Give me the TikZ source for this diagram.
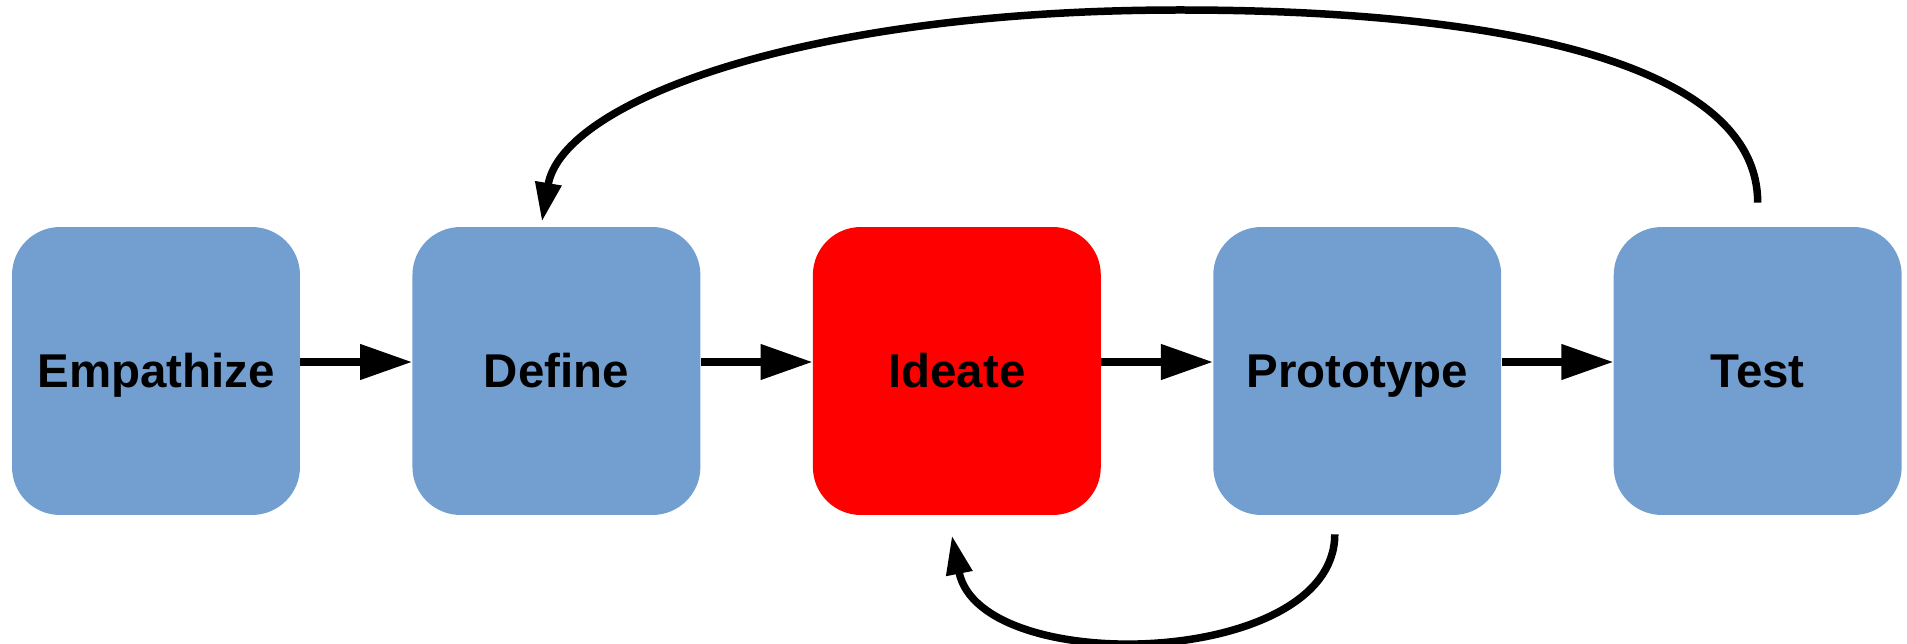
\documentclass[tikz,border=0pt]{standalone}
\usepackage{fontspec}
\setmainfont{Liberation Sans}
\usepackage{tikz}
\usetikzlibrary{arrows.meta}
\definecolor{stageblue}{HTML}{729FCF}
\tikzstyle{stage} = [rectangle, rounded corners=0.96cm, minimum width=5.76cm, minimum height=5.76cm,
    text centered, text height=0.68cm, text depth=0cm, draw=none, fill=stageblue,
    font=\bfseries\fontsize{27}{32}\selectfont]
\tikzstyle{current} = [stage, fill=red]
\tikzstyle{arrow} = [line width=0.15cm, -{Triangle[length=1.04cm, width=0.68cm]}]
\tikzstyle{loopback} = [line width=0.15cm, -{Triangle[length=0.78cm, width=0.5cm]}]

\begin{document}
\begin{tikzpicture}[x=0.02cm, y=0.02cm, node distance=8.01cm]
                \useasboundingbox (0,0) rectangle (1907,643);
                \node (empathize) [stage] at (156,272) {Empathize};
                \node (define) [stage, right of=empathize] {Define};
                \node (ideate) [current, right of=define] {Ideate};
                \node (prototype) [stage, right of=ideate] {Prototype};
                \node (test) [stage, right of=prototype] {Test};
                \draw [arrow] ([yshift=0.18cm]empathize.east) -- ([yshift=0.18cm]define.west);
                \draw [arrow] ([yshift=0.18cm]define.east) -- ([yshift=0.18cm]ideate.west);
                \draw [arrow] ([yshift=0.18cm]ideate.east) -- ([yshift=0.18cm]prototype.west);
                \draw [arrow] ([yshift=0.18cm]prototype.east) -- ([yshift=0.18cm]test.west);
                % back to define, over the top
                \coordinate (peak) at (1180,633);
                \draw [loopback] ([yshift=0.48cm]test.north) .. controls +(0,140) and +(320,0) .. (peak)
                    .. controls +(-380,0) and +(20,119) .. ([xshift=-0.29cm, yshift=0.1cm]define.north);
                % back to ideate, underneath
                \draw [loopback] ([xshift=-0.45cm, yshift=-0.38cm]prototype.south) .. controls +(0,-134) and +(28,-143) .. ([xshift=-0.1cm, yshift=-0.4cm]ideate.south);
            \end{tikzpicture}
\end{document}
